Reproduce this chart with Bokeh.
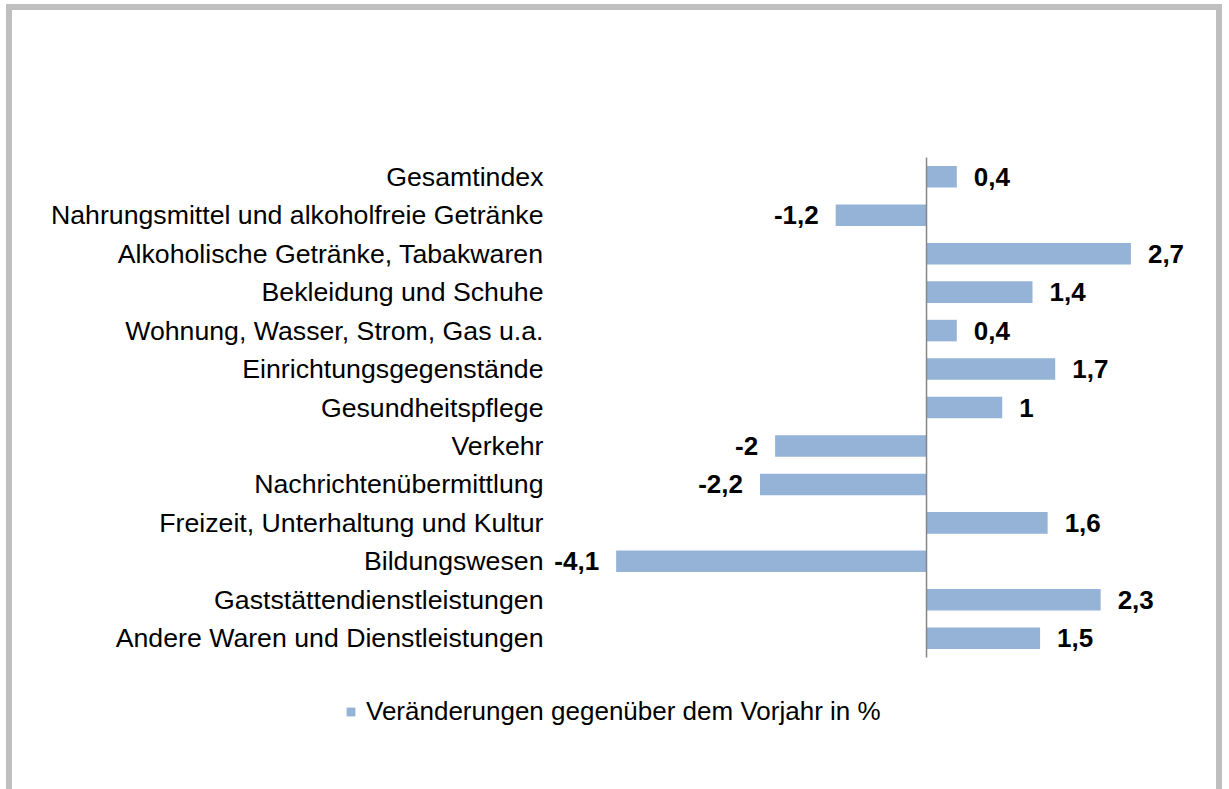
from bokeh.plotting import figure
from bokeh.models import ColumnDataSource, FactorRange, Legend, LegendItem
from bokeh.core.properties import value
from bokeh.embed import file_html
from bokeh.resources import INLINE

categories = [
    "Gesamtindex",
    "Nahrungsmittel und alkoholfreie Getränke",
    "Alkoholische Getränke, Tabakwaren",
    "Bekleidung und Schuhe",
    "Wohnung, Wasser, Strom, Gas u.a.",
    "Einrichtungsgegenstände",
    "Gesundheitspflege",
    "Verkehr",
    "Nachrichtenübermittlung",
    "Freizeit, Unterhaltung und Kultur",
    "Bildungswesen",
    "Gaststättendienstleistungen",
    "Andere Waren und Dienstleistungen",
]
values = [0.4, -1.2, 2.7, 1.4, 0.4, 1.7, 1.0, -2.0, -2.2, 1.6, -4.1, 2.3, 1.5]
series_name = "Veränderungen gegenüber dem Vorjahr in %"


def fmt(v):
    return ("%g" % v).replace(".", ",")


labels = [fmt(v) for v in values]
aligns = ["left" if v >= 0 else "right" for v in values]
offsets = [17 if v >= 0 else -17 for v in values]

LABEL_X = -5.06  # data position where the category labels end (right-aligned)

src = ColumnDataSource(dict(cat=categories, val=values, lab=labels,
                            align=aligns, off=offsets,
                            lx=[LABEL_X] * len(categories)))

FONT = "Liberation Sans"

n = len(categories)
yr = FactorRange(*reversed(categories), range_padding=3.432,
                 range_padding_units="absolute")

p = figure(
    width=1204, height=779,
    y_range=yr,
    x_range=(-12.074, 3.989),
    output_backend="svg", toolbar_location=None,
    min_border_left=0, min_border_right=0,
    min_border_top=15, min_border_bottom=6,
)
p.styles = {
    "box-sizing": "content-box",
    "margin-left": "6px",
    "margin-top": "4px",
    "border-left": "6px solid #BFBFBF",
    "border-top": "6px solid #BFBFBF",
    "border-right": "6px solid #BFBFBF",
}
p.outline_line_color = None
p.xgrid.visible = False
p.ygrid.visible = False
p.xaxis.visible = False
p.yaxis.visible = False

bars = p.hbar(y="cat", right="val", left=0, height=0.56, source=src,
              fill_color="#95B3D7", line_color=None)

# vertical zero axis spanning the category rows
p.segment(x0=[0], y0=[0], x1=[0], y1=[n], line_color="#868686",
          line_width=1.5)

# category labels
p.text(x="lx", y="cat", text="cat", source=src,
       text_align="right", text_baseline="middle",
       text_font=value(FONT), text_font_size="26.7px",
       text_color="#000000")

# value labels
p.text(x="val", y="cat", text="lab", source=src, x_offset="off",
       text_align="align", text_baseline="middle",
       text_font=value(FONT), text_font_size="26px", text_font_style="bold",
       text_color="#000000")

legend = Legend(items=[LegendItem(label=series_name, renderers=[bars])],
                location=(333, 62), orientation="horizontal",
                padding=0, margin=0, spacing=0,
                glyph_width=11, glyph_height=11, label_standoff=10,
                label_text_font=FONT, label_text_font_size="26px",
                label_text_color="#000000",
                border_line_color=None, background_fill_alpha=0)
p.add_layout(legend, "center")

open("out.html", "w").write(file_html(p, INLINE))
